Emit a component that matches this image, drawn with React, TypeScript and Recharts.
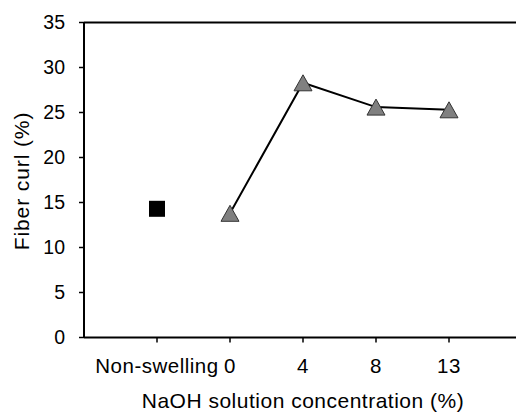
import React from "react";
import { ComposedChart, Line, XAxis, YAxis, ReferenceLine } from "recharts";

const categories = ["Non-swelling", "0", "4", "8", "13"];
const nonSwellingCurl = [14.3];
const naohCurl = [13.8, 28.3, 25.6, 25.3];
const yTicks = [0, 5, 10, 15, 20, 25, 30, 35];

const FONT = "'Liberation Sans', Arial, Helvetica, sans-serif";

const data = categories.map((name, i) => ({
  x: i + 1,
  name,
  control: i === 0 ? nonSwellingCurl[0] : null,
  curl: i > 0 ? naohCurl[i - 1] : null,
}));

const Triangle = (props: any) => {
  const { cx, cy, index } = props;
  if (cx == null || cy == null || props.value == null) return <g key={`t-${index}`} />;
  return (
    <polygon
      key={`t-${index}`}
      points={`${cx},${cy - 8} ${cx - 9},${cy + 8} ${cx + 9},${cy + 8}`}
      fill="#808080"
      stroke="#333333"
      strokeWidth={1}
    />
  );
};

const Square = (props: any) => {
  const { cx, cy, index } = props;
  if (cx == null || cy == null || props.value == null) return <g key={`s-${index}`} />;
  return <rect key={`s-${index}`} x={cx - 8} y={cy - 8} width={16} height={16} fill="#000000" />;
};

const YLabel = (props: any) => {
  const { x, y, height } = props.viewBox;
  const lx = x + 28.5;
  const ly = y + height / 2 + 1;
  return (
    <text
      x={lx}
      y={ly}
      transform={`rotate(-90 ${lx} ${ly})`}
      textAnchor="middle"
      fontSize={21}
      letterSpacing={0.9}
      fontFamily={FONT}
      fill="#000"
    >
      Fiber curl (%)
    </text>
  );
};

const XLabel = (props: any) => {
  const { x, y, width } = props.viewBox;
  return (
    <text
      x={x + width / 2}
      y={y + 70}
      textAnchor="middle"
      fontSize={21}
      letterSpacing={0.5}
      fontFamily={FONT}
      fill="#000"
    >
      NaOH solution concentration (%)
    </text>
  );
};

export default function App() {
  return (
    <div
      style={{
        position: "absolute",
        left: 0,
        top: 0,
        width: 516,
        height: 412,
        overflow: "hidden",
        background: "#fff",
      }}
    >
      <ComposedChart
        width={540}
        height={412}
        data={data}
        margin={{ top: 22.5, right: 18, left: 0, bottom: 0 }}
      >
        <XAxis
          dataKey="x"
          type="number"
          domain={[0, 6]}
          ticks={[1, 2, 3, 4, 5]}
          tickFormatter={(v: number) => categories[v - 1]}
          height={74.5}
          axisLine={{ stroke: "#000", strokeWidth: 2 }}
          tickLine={{ stroke: "#000", strokeWidth: 1.5 }}
          tickSize={5}
          tickMargin={16}
          tick={{ fill: "#000", fontSize: 20.5, fontFamily: FONT, letterSpacing: 0.5 }}
          interval={0}
          label={{ content: XLabel }}
        />
        <YAxis
          type="number"
          domain={[0, 35]}
          ticks={yTicks}
          width={84}
          axisLine={{ stroke: "#000", strokeWidth: 2 }}
          tickLine={{ stroke: "#000", strokeWidth: 1.5 }}
          tickSize={5}
          tickMargin={14}
          tick={{ fill: "#000", fontSize: 19.5, fontFamily: FONT }}
          interval={0}
          label={{ content: YLabel }}
        />
        <ReferenceLine y={35} stroke="#000" strokeWidth={2} />
        <Line
          dataKey="curl"
          stroke="#000"
          strokeWidth={2}
          dot={Triangle}
          activeDot={false}
          isAnimationActive={false}
          connectNulls={false}
        />
        <Line
          dataKey="control"
          stroke="none"
          dot={Square}
          activeDot={false}
          isAnimationActive={false}
        />
      </ComposedChart>
    </div>
  );
}
